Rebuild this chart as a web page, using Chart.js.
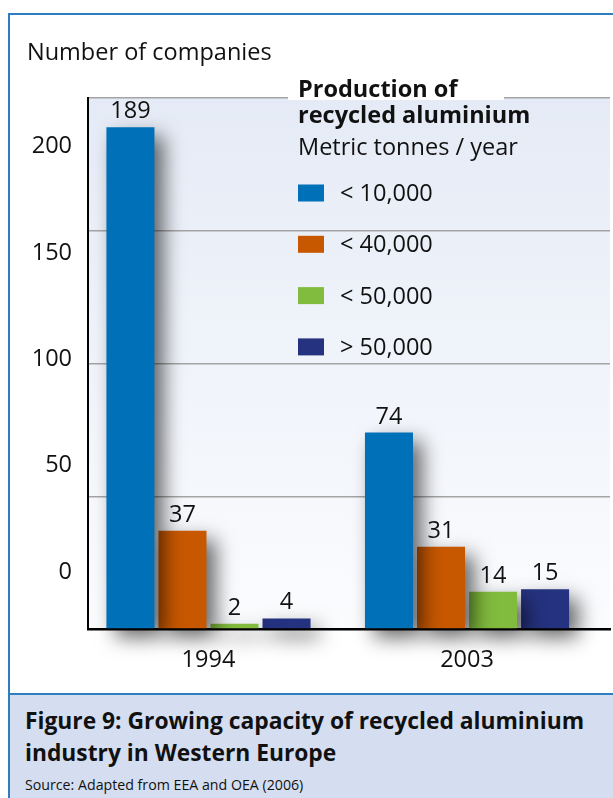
<!DOCTYPE html>
<html>
<head>
<meta charset="utf-8">
<script src="https://cdn.jsdelivr.net/npm/chart.js@4.4.1/dist/chart.umd.min.js"></script>
<style>
  html, body { margin: 0; padding: 0; background: #fff; }
  body { width: 613px; height: 798px; position: relative; overflow: hidden; font-family: "Open Sans", sans-serif; }
  #frameTop { position: absolute; left: 8px; top: 13px; width: 605px; height: 2px; background: #2d7dc0; }
  #frameLeft { position: absolute; left: 8px; top: 13px; width: 2px; height: 785px; background: #2d7dc0; }
  #wrap { position: absolute; left: 0; top: 0; width: 613px; height: 693px; }
  #caption { position: absolute; left: 10px; top: 693px; width: 603px; height: 105px; background: #d5def0; border-top: 2px solid #2d7dc0; }
  #caption h1 { margin: 0; position: absolute; left: 15px; top: 10px; font-size: 22.8px; line-height: 32px; font-weight: bold; color: #111; white-space: nowrap; }
  #caption p { margin: 0; position: absolute; left: 15px; top: 80px; font-size: 14.2px; line-height: 1.36; color: #111; white-space: nowrap; }
</style>
</head>
<body>
<div id="wrap"><canvas id="chart" width="613" height="693"></canvas></div>
<div id="frameTop"></div>
<div id="frameLeft"></div>
<div id="caption">
  <h1>Figure 9: Growing capacity of recycled aluminium<br>industry in Western Europe</h1>
  <p>Source: Adapted from EEA and OEA (2006)</p>
</div>
<script>
// data
const years = ['1994', '2003'];
const sizeClasses = ['< 10,000', '< 40,000', '< 50,000', '> 50,000'];
const under10k = [189, 74];
const under40k = [37, 31];
const under50k = [2, 14];
const over50k = [4, 15];
const yTickValues = [0, 50, 100, 150, 200];
const colours = ['#0070b9', '#c85800', '#82bc3e', '#25327f'];

const FONT = '"Open Sans", sans-serif';
const TEXT = '#111';

const toPoints = (values) => values.map((v, i) => ({ x: i, y: v }));

const seriesValues = [under10k, under40k, under50k, over50k];
const datasets = sizeClasses.map((label, i) => ({
  label,
  data: toPoints(seriesValues[i]),
  backgroundColor: colours[i],
  borderWidth: 0,
  categoryPercentage: 0.805,
  barPercentage: 0.923,
  clip: false,
}));

// gradient behind the plot
const plotBackground = {
  id: 'plotBackground',
  beforeDraw(chart) {
    const { ctx, chartArea: a } = chart;
    const g = ctx.createLinearGradient(0, a.top, 0, a.bottom);
    g.addColorStop(0, '#e5ebf6');
    g.addColorStop(1, '#fbfcfe');
    ctx.save();
    ctx.fillStyle = g;
    ctx.fillRect(a.left, a.top, a.right - a.left, a.bottom - a.top);
    ctx.restore();
  },
};

// soft drop shadow under the bars
const barShadow = {
  id: 'barShadow',
  beforeDatasetsDraw(chart) {
    const ctx = chart.ctx;
    ctx.save();
    ctx.shadowColor = 'rgba(0,0,0,0.6)';
    ctx.shadowBlur = 20;
    ctx.shadowOffsetX = 9;
    ctx.shadowOffsetY = 9;
  },
  afterDatasetsDraw(chart) {
    chart.ctx.restore();
  },
};

// numbers above the bars
const valueLabels = {
  id: 'valueLabels',
  afterDatasetsDraw(chart) {
    const ctx = chart.ctx;
    ctx.save();
    ctx.font = '23.5px ' + FONT;
    ctx.fillStyle = TEXT;
    ctx.textAlign = 'center';
    ctx.textBaseline = 'alphabetic';
    chart.data.datasets.forEach((ds, di) => {
      chart.getDatasetMeta(di).data.forEach((bar, i) => {
        ctx.fillText(String(ds.data[i].y), bar.x, bar.y - 9);
      });
    });
    ctx.restore();
  },
};

// axis title and the legend block inside the plot
const sideLegend = {
  id: 'sideLegend',
  afterDraw(chart) {
    const ctx = chart.ctx;
    const x = 298;
    ctx.save();
    ctx.fillStyle = '#fff';
    ctx.fillRect(288, chart.chartArea.top - 3, 216, 5);
    ctx.fillStyle = TEXT;
    ctx.textAlign = 'left';
    ctx.textBaseline = 'alphabetic';
    ctx.font = '23.5px ' + FONT;
    ctx.fillText('Number of companies', 27, 60);
    ctx.font = 'bold 23.5px ' + FONT;
    ctx.fillText('Production of', x, 97);
    ctx.fillText('recycled aluminium', x, 123);
    ctx.font = '23.5px ' + FONT;
    ctx.fillText('Metric tonnes / year', x, 155);
    chart.data.datasets.forEach((ds, i) => {
      const cy = 193 + i * 51.3;
      ctx.fillStyle = ds.backgroundColor;
      ctx.fillRect(x, cy - 8.5, 26, 17);
      ctx.fillStyle = TEXT;
      ctx.fillText(ds.label, 340, cy + 8);
    });
    ctx.restore();
  },
};

new Chart(document.getElementById('chart'), {
  type: 'bar',
  data: { datasets },
  options: {
    responsive: false,
    animation: false,
    layout: { padding: { top: 98, right: 3, left: 0, bottom: 0 } },
    plugins: { legend: { display: false }, tooltip: { enabled: false } },
    scales: {
      x: {
        type: 'linear',
        position: 'bottom',
        offset: false,
        min: -0.466,
        max: 1.553,
        z: 1,
        afterBuildTicks(scale) { scale.ticks = years.map((_, i) => ({ value: i })); },
        afterFit(scale) { scale.height = 64; },
        grid: { display: false, drawTicks: false, offset: false },
        border: { color: '#000', width: 2.5 },
        ticks: {
          padding: 17,
          color: TEXT,
          font: { family: FONT, size: 23.5 },
          callback: (v) => years[v] || '',
        },
      },
      y: {
        position: 'left',
        min: 0,
        max: 200,
        weight: 0,
        afterBuildTicks(scale) { scale.ticks = yTickValues.map((v) => ({ value: v })); },
        afterFit(scale) { scale.width = 0; },
        grid: { color: '#a4a4a4', lineWidth: 1.5, drawTicks: false },
        border: { color: '#000', width: 2 },
        ticks: { display: false },
      },
      // tick labels in the original sit off their gridlines; a second axis reproduces that
      yLabels: {
        position: 'left',
        min: -26.8,
        max: 222.8,
        weight: 1,
        afterBuildTicks(scale) { scale.ticks = yTickValues.map((v) => ({ value: v })); },
        afterFit(scale) { scale.width = 88; },
        grid: { display: false, drawTicks: false },
        border: { display: false },
        ticks: {
          padding: 16,
          color: TEXT,
          font: { family: FONT, size: 23.5 },
        },
      },
    },
  },
  plugins: [plotBackground, barShadow, valueLabels, sideLegend],
});
</script>
</body>
</html>
